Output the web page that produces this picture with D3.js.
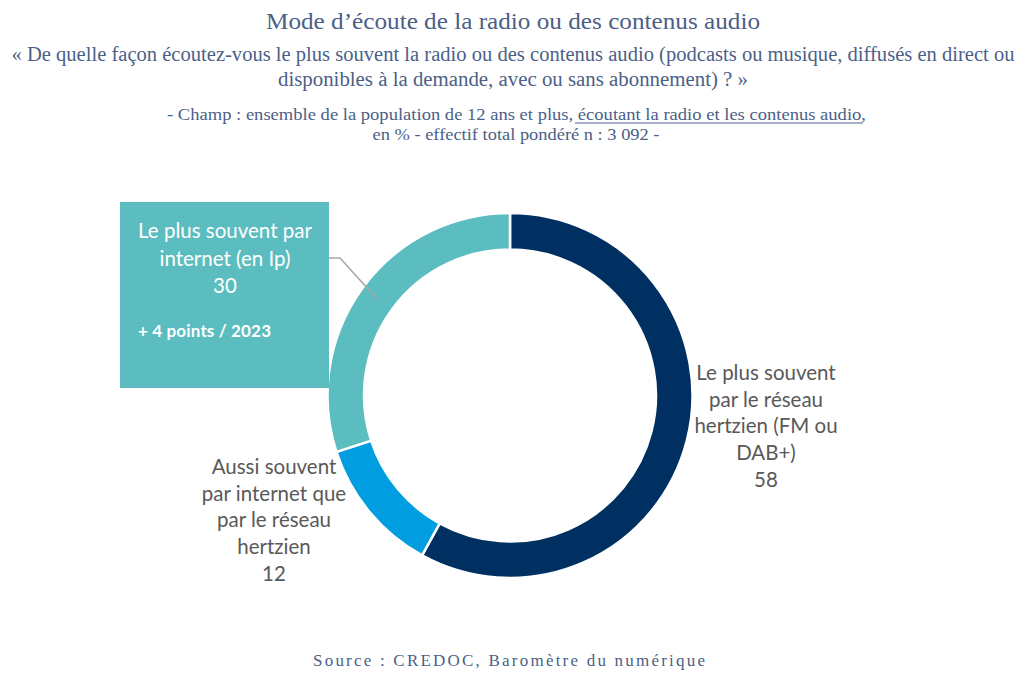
<!DOCTYPE html>
<html><head><meta charset="utf-8">
<script src="https://cdn.jsdelivr.net/npm/d3@7"></script>
<style>
html,body{margin:0;padding:0;background:#fff;}
svg{display:block;}
</style></head>
<body>
<svg id="chart" width="1026" height="682"></svg>
<script>
const categories = [
  "Le plus souvent par le réseau hertzien (FM ou DAB+)",
  "Aussi souvent par internet que par le réseau hertzien",
  "Le plus souvent par internet (en Ip)"
];
const values = [58, 12, 30];
const colors = ["#003061", "#009EE0", "#5BBDBF"];
const labelLines = [
  ["Le plus souvent", "par le réseau", "hertzien (FM ou", "DAB+)", "58"],
  ["Aussi souvent", "par internet que", "par le réseau", "hertzien", "12"],
  ["Le plus souvent par", "internet (en Ip)", "30"]
];
const evolution = "+ 4 points / 2023";

const titleText = "Mode d\u2019écoute de la radio ou des contenus audio";
const subtitleLines = [
  "« De quelle façon écoutez-vous le plus souvent la radio ou des contenus audio (podcasts ou musique, diffusés en direct ou",
  "disponibles à la demande, avec ou sans abonnement) ? »"
];
const sourceText = "Source : CREDOC, Baromètre du numérique";

const svg = d3.select("#chart");
const W = 1026;
const titleColor = "#4C5F87";
const serif = "'Liberation Serif', 'DejaVu Serif', serif";
const sans = "Lato, 'Open Sans', sans-serif";

// Titles
svg.append("text").attr("x", W/2).attr("y", 29).attr("text-anchor","middle")
  .attr("font-family", serif).attr("font-size", 24).attr("fill", titleColor)
  .attr("textLength", 494).attr("lengthAdjust","spacingAndGlyphs")
  .text(titleText);
const subLens = [1003, 470];
subtitleLines.forEach((t,i)=>{
  svg.append("text").attr("x", W/2).attr("y", 61 + i*25).attr("text-anchor","middle")
    .attr("font-family", serif).attr("font-size", 20).attr("fill", titleColor)
    .attr("textLength", subLens[i]).attr("lengthAdjust","spacingAndGlyphs")
    .text(t);
});
// Champ lines
const champ = svg.append("text").attr("x", 167).attr("y", 120)
  .attr("font-family", serif).attr("font-size", 17.5).attr("fill", titleColor)
  .attr("textLength", 699).attr("lengthAdjust","spacingAndGlyphs");
champ.append("tspan").text("- Champ : ensemble de la population de 12 ans et plus, ");
champ.append("tspan").text("écoutant la radio et les contenus audio");
champ.append("tspan").text(",");
svg.append("line").attr("x1",575).attr("x2",863).attr("y1",123).attr("y2",123)
  .attr("stroke",titleColor).attr("stroke-width",1);
svg.append("text").attr("x", 516).attr("y", 140).attr("text-anchor","middle")
  .attr("font-family", serif).attr("font-size", 17.5).attr("fill", titleColor)
  .attr("textLength", 287).attr("lengthAdjust","spacingAndGlyphs")
  .text("en % - effectif total pondéré n : 3 092 -");

// Donut
const cx = 510, cy = 395.5, R = 182.5, r = 146;
const pie = d3.pie().sort(null).value(d=>d);
const arc = d3.arc().innerRadius(r).outerRadius(R);
const arcs = pie(values);
const g = svg.append("g").attr("transform", `translate(${cx},${cy})`);
g.selectAll("path").data(arcs).join("path")
  .attr("d", arc).attr("fill", (d,i)=>colors[i])
  .attr("stroke", "#fff").attr("stroke-width", 2.5);

// Label box for internet slice
const boxX = 120, boxY = 202, boxW = 209, boxH = 186;
const c2 = arc.centroid(arcs[2]);
svg.append("polyline")
  .attr("points", `${boxX+boxW},${boxY+56} ${boxX+boxW+11},${boxY+56} ${cx + c2[0]},${cy + c2[1]}`)
  .attr("fill","none").attr("stroke","#A6A6A6").attr("stroke-width",1.5);
svg.append("rect").attr("x",boxX).attr("y",boxY).attr("width",boxW).attr("height",boxH)
  .attr("fill", colors[2]);
labelLines[2].forEach((t,i)=>{
  svg.append("text").attr("x", boxX + 105).attr("y", boxY + 31 + i*27.5).attr("text-anchor","middle")
    .attr("dominant-baseline","middle")
    .attr("font-family", sans).attr("font-size", 20.5).attr("fill","#fff").text(t);
});
svg.append("text").attr("x", boxX + 18).attr("y", boxY + 131).attr("dominant-baseline","middle")
  .attr("font-family", sans).attr("font-size", 17).attr("font-weight","bold").attr("fill","#fff")
  .attr("textLength", 133).attr("lengthAdjust","spacing").text(evolution);

// Outer labels
const labelPos = [[766, 375], [274, 469]];
[0,1].forEach(k=>{
  labelLines[k].forEach((t,i)=>{
    svg.append("text").attr("x", labelPos[k][0]).attr("y", labelPos[k][1] + i*26.6).attr("text-anchor","middle")
      .attr("dominant-baseline","middle")
      .attr("font-family", sans).attr("font-size", 20.5).attr("fill","#595959").text(t);
  });
});

// Source
svg.append("text").attr("x", 313).attr("y", 666)
  .attr("font-family", serif).attr("font-size", 17).attr("fill", titleColor)
  .attr("textLength", 392).attr("lengthAdjust","spacing")
  .text(sourceText);
</script>
</body></html>
